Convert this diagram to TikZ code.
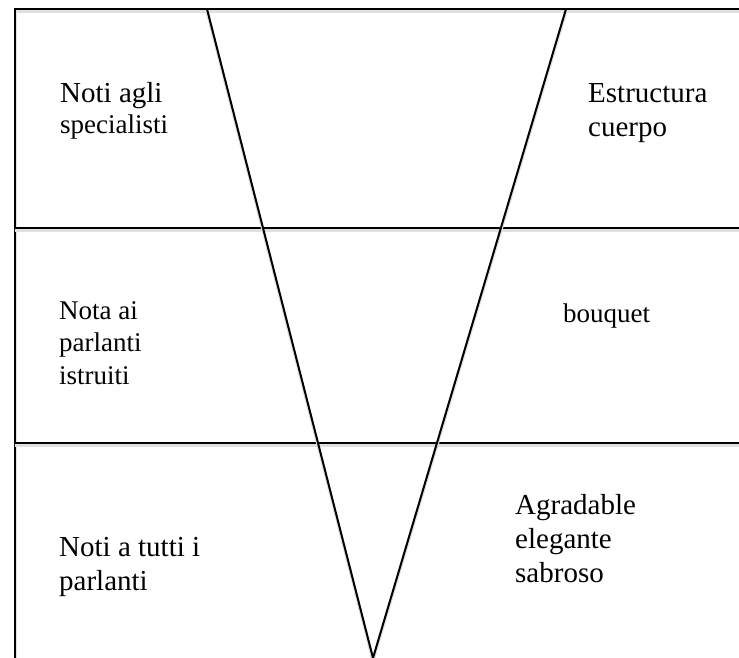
\documentclass[tikz,border=0pt]{standalone}
\usepackage{fontspec}
\setmainfont{Liberation Serif}
\begin{document}
\begin{tikzpicture}[x=1pt, y=-1pt,
    linea/.style={line width=2pt, line cap=round,
      preaction={draw=black!12, line width=3pt, transform canvas={yshift=-2.5pt}}},
    testo/.style={anchor=base west, inner sep=0pt, align=left},
    grande/.style={testo, font=\fontsize{29}{34}\selectfont},
    piccolo/.style={testo, font=\fontsize{27}{32.5}\selectfont}]
        \useasboundingbox (0,0) rectangle (739,658);

        % Vertici della griglia
        \coordinate (tl) at (15,9);
        \coordinate (tr) at (739,9);
        \coordinate (bl) at (15,658);
        \coordinate (ml) at (15,228);
        \coordinate (mr) at (739,228);
        \coordinate (nl) at (15,443);
        \coordinate (nr) at (739,443);

        % Vertici del triangolo
        \coordinate (vs) at (207,9);
        \coordinate (vd) at (566,9);
        \coordinate (punta) at (373,658);

        % Griglia
        \draw[linea] (bl) -- (tl) -- (tr);
        \draw[linea] (ml) -- (mr);
        \draw[linea] (nl) -- (nr);

        % Triangolo
        \draw[linea] (vs) -- (punta) -- (vd);

        % Testi a sinistra (ancorati all'ultima riga)
        \node[grande] (spec) at (60,134) {Noti agli\\[-3pt]\fontsize{27}{31}\selectfont specialisti};
        \node[piccolo] (istr) at (59,384) {Nota ai\\parlanti\\istruiti};
        \node[grande] (tutti) at (59,590) {Noti a tutti i\\parlanti};

        % Testi a destra
        \node[grande] (estr) at (588,137) {Estructura\\cuerpo};
        \node[piccolo] (bouq) at (563,322) {bouquet};
        \node[grande] (agra) at (515,582) {Agradable\\elegante\\sabroso};
\end{tikzpicture}
\end{document}
